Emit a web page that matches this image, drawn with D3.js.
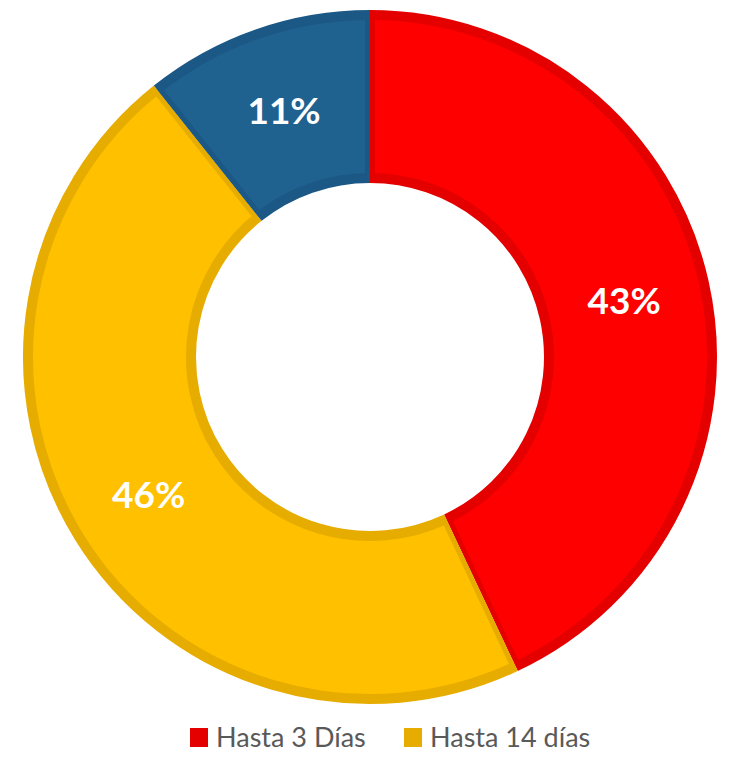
<!DOCTYPE html>
<html>
<head>
<meta charset="utf-8">
<script src="https://cdn.jsdelivr.net/npm/d3@7"></script>
<style>
  body { margin: 0; background: #fff; }
  svg { display: block; }
</style>
</head>
<body>
<div id="chart"></div>
<script>
// slice values, in the order Excel draws them (clockwise from 12 o'clock)
const CATEGORIES = ['Hasta 3 Días', 'Hasta 14 días', null];
const VALUES = [43, 46.3, 10.7];

const FILLS = ['#ff0000', '#ffc000', '#1f618f'];
const BORDERS = ['#e50000', '#e6ac00', '#1c5885'];

const width = 731;
const height = 758;
const cx = 370;
const cy = 357;

const pct = d3.format('.0%');
const total = d3.sum(VALUES);

const svg = d3.select('#chart')
  .append('svg')
    .attr('width', width)
    .attr('height', height);

const pie = d3.pie()
  .value(d => d)
  .sort(null);

const arcs = pie(VALUES);

const arc = d3.arc()
  .innerRadius(179)
  .outerRadius(342);

// wedge used to keep each slice's border on its own side of the radial edges
const wedge = d3.arc()
  .innerRadius(0)
  .outerRadius(420);

const defs = svg.append('defs');
arcs.forEach((a, i) => {
  defs.append('clipPath')
    .attr('id', 'wedge-' + i)
    .append('path')
      .attr('d', wedge(a));
});

const g = svg.append('g')
  .attr('transform', 'translate(' + cx + ',' + cy + ')');

g.selectAll('path.slice')
  .data(arcs)
  .enter()
  .append('path')
    .attr('class', 'slice')
    .attr('d', arc)
    .attr('fill', (d, i) => FILLS[i])
    .attr('stroke', (d, i) => BORDERS[i])
    .attr('stroke-width', 10)
    .attr('stroke-linejoin', 'miter')
    .attr('clip-path', (d, i) => 'url(#wedge-' + i + ')');

g.selectAll('text.label')
  .data(arcs)
  .enter()
  .append('text')
    .attr('class', 'label')
    .attr('transform', d => 'translate(' + arc.centroid(d) + ')')
    .attr('text-anchor', 'middle')
    .attr('dy', '0.36em')
    .attr('fill', '#ffffff')
    .attr('font-family', 'Lato, "Open Sans", sans-serif')
    .attr('font-weight', 'bold')
    .attr('font-size', 37)
    .text(d => pct(d.value / total));

// legend (only the named series are listed)
const legendItems = CATEGORIES
  .map((name, i) => ({ name, color: BORDERS[i] }))
  .filter(d => d.name);

const legendX = d3.scalePoint()
  .domain(legendItems.map(d => d.name))
  .range([190, 404]);

const legend = svg.append('g')
  .attr('class', 'legend');

const item = legend.selectAll('g')
  .data(legendItems)
  .enter()
  .append('g')
    .attr('transform', d => 'translate(' + legendX(d.name) + ',728)');

item.append('rect')
  .attr('width', 18)
  .attr('height', 19)
  .attr('fill', d => d.color);

item.append('text')
  .attr('x', 26)
  .attr('y', 19)
  .attr('fill', '#595959')
  .attr('font-family', 'Lato, "Open Sans", sans-serif')
  .attr('font-size', 27)
  .text(d => d.name);
</script>
</body>
</html>
